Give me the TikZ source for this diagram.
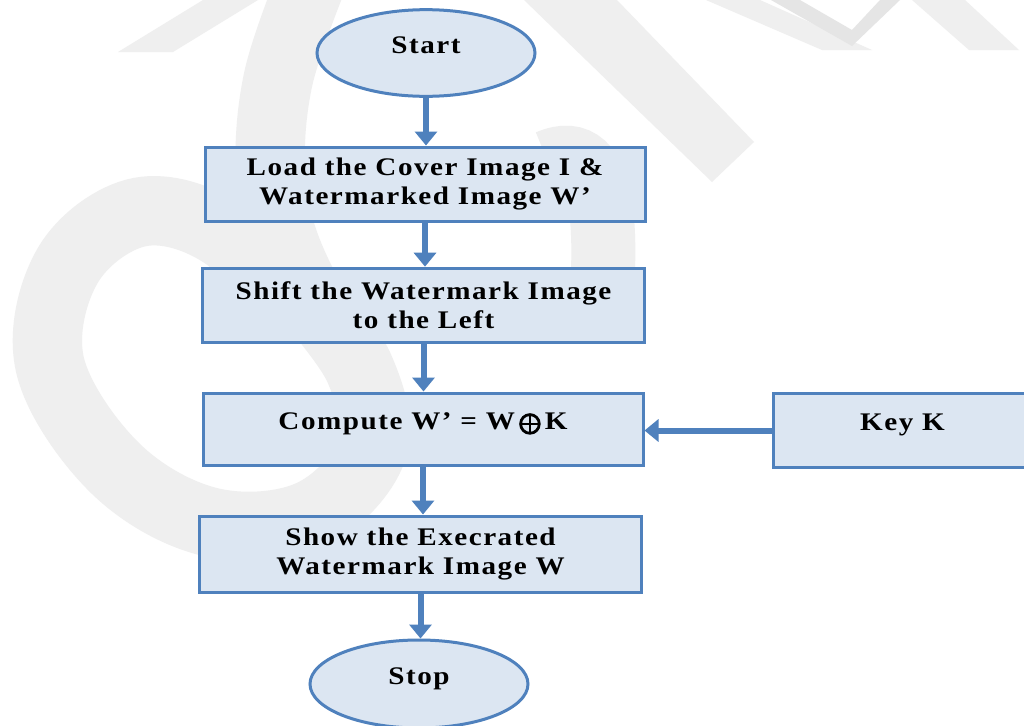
\documentclass[tikz,border=0pt]{standalone}
\usepackage{fontspec}
\setmainfont{Liberation Serif}
\newfontfamily\diagfont[FakeStretch=1.15,LetterSpace=6]{Liberation Serif}
\usetikzlibrary{shapes.geometric,arrows.meta,calc}
\definecolor{boxfill}{HTML}{DCE6F2}
\definecolor{boxline}{HTML}{4F81BD}
\definecolor{wm}{HTML}{EFEFEF}
\definecolor{wmd}{HTML}{E5E5E5}
\newcommand{\labelfont}{\diagfont\fontsize{19}{21.5}\selectfont\bfseries}
\newcommand{\xorsym}{\,\tikz[baseline={(0,-3.8pt)}]{\draw[line width=2.1pt,black] (0,0) circle (7pt); \draw[line width=2.1pt,black] (-7pt,0) -- (7pt,0) (0,-7pt) -- (0,7pt);}\,}
\tikzset{
  stepbox/.style={rectangle, draw=boxline, fill=boxfill, line width=2.25pt, align=center, font=\labelfont, inner sep=0pt},
  oval/.style={ellipse, draw=boxline, fill=boxfill, line width=2.25pt, font=\labelfont, inner sep=0pt},
  oneline/.style={text height=9.5pt, text depth=9.5pt},
  flow/.style={draw=boxline, line width=4.5pt, -{Triangle[width=16.5pt,length=10.5pt]}},
  wmband/.style={draw=wm, line cap=butt},
}
\begin{document}
\begin{tikzpicture}[x=0.75pt,y=-0.75pt]
\useasboundingbox (0,0) rectangle (1024,725);
\clip (0,0) rectangle (1024,725);
\fill[white] (0,0) rectangle (1024,725);
% faint watermark
\fill[wm] (118,52) -- (173,52) -- (258,0) -- (203,0) -- cycle;
\draw[wmband, line width=52pt] plot[smooth, tension=0.6] coordinates {(320,-40) (278,80) (272,190) (300,280) (360,370) (372,450) (310,515) (210,522) (115,468) (50,365) (68,265) (140,212) (225,235) (300,320)};
\fill[wm] (524,0) -- (617,0) -- (754,142) -- (712,182) -- cycle;
\draw[wmband, line width=48pt] (548,162) .. controls (610,135) and (608,240) .. (598,340);
\fill[wm] (706,0) -- (760,0) -- (872,50) -- (822,50) -- cycle;
\fill[wm] (912,0) -- (965,0) -- (1019,50) -- (969,50) -- cycle;
\fill[wmd] (771,0) -- (800,0) -- (852,30) -- (880,0) -- (900,0) -- (852,46) -- cycle;
% flowchart
\node[oval, oneline, minimum width=163.5pt, minimum height=65pt] (start) at (426,53) {Start};
\node[stepbox, minimum width=330pt, minimum height=55.5pt] (load) at (425,184) {Load the Cover Image I \&\\Watermarked Image W’};
\node[stepbox, minimum width=332pt, minimum height=56pt] (shift) at (423.5,305.5) {Shift the Watermark Image\\to the Left};
\node[stepbox, oneline, minimum width=330pt, minimum height=54pt] (comp) at (423,429) {Compute W’ = W\xorsym K};
\node[stepbox, oneline, minimum width=194pt, minimum height=56pt] (key) at (902.5,430.5) {Key K};
\node[stepbox, minimum width=332pt, minimum height=57pt] (show) at (420.5,554) {Show the Execrated\\Watermark Image W};
\node[oval, oneline, minimum width=163.5pt, minimum height=66pt] (stop) at (419,684) {Stop};
\draw[flow] (start.south) -- (start.south |- load.north);
\draw[flow] (load.south) -- (load.south |- shift.north);
\draw[flow] (shift.south) -- (shift.south |- comp.north);
\draw[flow] (comp.south) -- (comp.south |- show.north);
\draw[flow] (show.south) -- (show.south |- stop.north);
\draw[flow] (key.west) -- (key.west -| comp.east);
\end{tikzpicture}
\end{document}
